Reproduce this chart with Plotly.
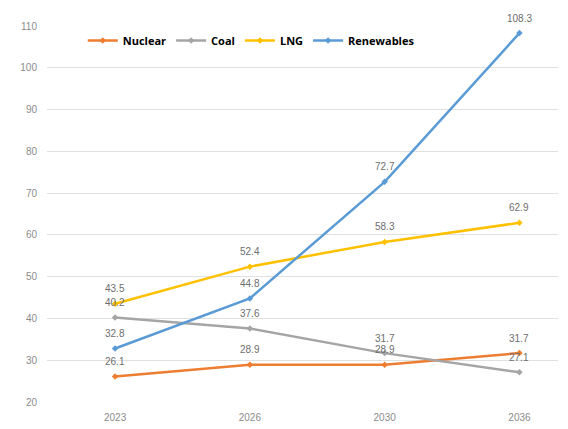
import plotly.graph_objects as go

years = ["2023", "2026", "2030", "2036"]
nuclear = [26.1, 28.9, 28.9, 31.7]
coal = [40.2, 37.6, 31.7, 27.1]
lng = [43.5, 52.4, 58.3, 62.9]
renewables = [32.8, 44.8, 72.7, 108.3]
y_ticks = [20, 30, 40, 50, 60, 70, 80, 90, 100, 110]

series = [
    ("Nuclear", nuclear, "#ED7D31"),
    ("Coal", coal, "#A5A5A5"),
    ("LNG", lng, "#FFC000"),
    ("Renewables", renewables, "#5B9BD5"),
]

fig = go.Figure()
for name, vals, color in series:
    fig.add_trace(go.Scatter(
        x=years, y=vals, name=name, mode="lines+markers",
        line=dict(color=color, width=2.5),
        marker=dict(color=color, size=5, symbol="diamond"),
    ))
    for i, v in enumerate(vals):
        fig.add_annotation(
            x=i, y=v, text=f"{v:.1f}", showarrow=False, yshift=15,
            font=dict(family="Liberation Sans Narrow, Arial", size=10, color="#6e6e6e"),
        )

fig.update_layout(
    width=568, height=429,
    margin=dict(l=33, r=18, t=14, b=35),
    paper_bgcolor="white", plot_bgcolor="white",
    showlegend=True,
    legend=dict(orientation="h", x=0.07, y=1.0, xanchor="left", yanchor="top",
                font=dict(family="Open Sans", size=11, color="#000000", weight="bold"),
                bgcolor="rgba(0,0,0,0)", itemwidth=30, tracegroupgap=0),
    xaxis=dict(type="category", range=[-0.505, 3.286], showgrid=False, zeroline=False,
               showline=False, ticks="", ticklabelstandoff=8,
               tickfont=dict(family="Liberation Sans Narrow, Arial", size=10, color="#8c8c8c")),
    yaxis=dict(range=[20, 110], tickvals=y_ticks, showgrid=True, gridcolor="#e0e0e0",
               gridwidth=1, zeroline=False, showline=False, ticks="", ticklabelstandoff=9,
               tickfont=dict(family="Liberation Sans Narrow, Arial", size=10, color="#8c8c8c")),
)

fig.write_html("out.html")
